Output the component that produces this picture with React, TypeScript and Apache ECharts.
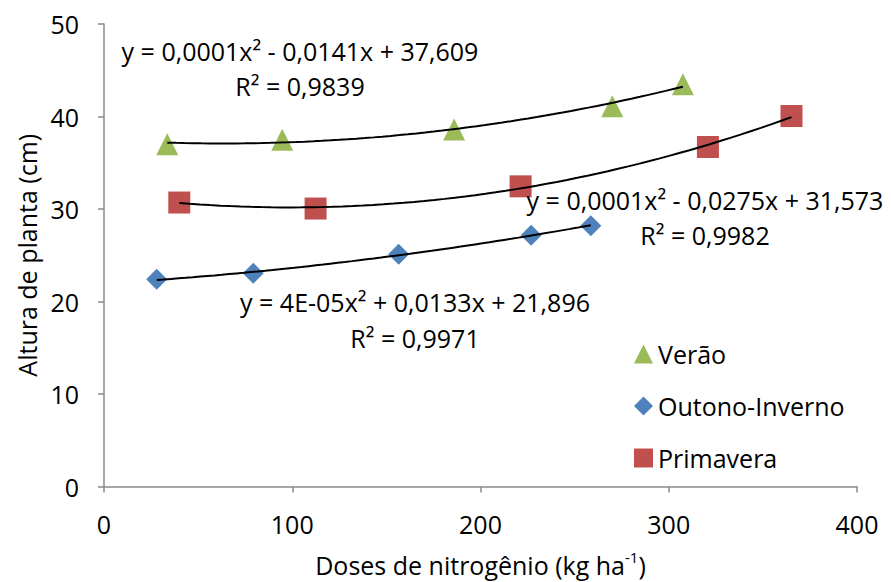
import React, { useEffect, useRef } from "react";
import * as echarts from "echarts";

// Data
const veraoX = [33.6, 94.7, 186, 270, 307.5];
const veraoY = [37.0, 37.5, 38.6, 41.1, 43.5];
const outonoX = [28, 79.3, 156.5, 226.9, 258.6];
const outonoY = [22.4, 23.05, 25.1, 27.15, 28.2];
const primaveraX = [40, 112.4, 221.3, 320.8, 365.2];
const primaveraY = [30.7, 30.05, 32.45, 36.7, 40.05];

const seriesNames = ["Verão", "Outono-Inverno", "Primavera"];
const seriesColors = ["#9BBB59", "#4F81BD", "#C0504D"];
const seriesSymbols = ["triangle", "diamond", "rect"];

const eqVerao = ["y = 0,0001x² - 0,0141x + 37,609", "R² = 0,9839"];
const eqPrimavera = ["y = 0,0001x² - 0,0275x + 31,573", "R² = 0,9982"];
const eqOutono = ["y = 4E-05x² + 0,0133x + 21,896", "R² = 0,9971"];

const FONT = '"Open Sans", "Noto Sans", sans-serif';
const FS = 25;

// least-squares quadratic fit (Excel polynomial trendline, order 2)
function quadFit(xs: number[], ys: number[]) {
  let s0 = 0, s1 = 0, s2 = 0, s3 = 0, s4 = 0, t0 = 0, t1 = 0, t2 = 0;
  for (let i = 0; i < xs.length; i++) {
    const x = xs[i], y = ys[i];
    s0 += 1; s1 += x; s2 += x * x; s3 += x * x * x; s4 += x * x * x * x;
    t0 += y; t1 += x * y; t2 += x * x * y;
  }
  const det = (m: number[][]) =>
    m[0][0] * (m[1][1] * m[2][2] - m[1][2] * m[2][1]) -
    m[0][1] * (m[1][0] * m[2][2] - m[1][2] * m[2][0]) +
    m[0][2] * (m[1][0] * m[2][1] - m[1][1] * m[2][0]);
  const A = [[s4, s3, s2], [s3, s2, s1], [s2, s1, s0]];
  const B = [t2, t1, t0];
  const D = det(A);
  return [0, 1, 2].map((k) => {
    const M = A.map((row, r) => row.map((v, c) => (c === k ? B[r] : v)));
    return det(M) / D;
  });
}

function trend(xs: number[], ys: number[]) {
  const [a, b, c] = quadFit(xs, ys);
  const x0 = xs[0], x1 = xs[xs.length - 1];
  const n = 60;
  const pts: number[][] = [];
  for (let i = 0; i <= n; i++) {
    const x = x0 + ((x1 - x0) * i) / n;
    pts.push([x, a * x * x + b * x + c]);
  }
  return pts;
}

export default function App() {
  const ref = useRef<HTMLDivElement>(null);
  useEffect(() => {
    if (!ref.current) return;
    const chart = echarts.init(ref.current, null, { renderer: "svg" });
    const xsAll = [veraoX, outonoX, primaveraX];
    const ysAll = [veraoY, outonoY, primaveraY];
    const scatter = seriesNames.map((name, i) => ({
      name,
      type: "scatter",
      data: xsAll[i].map((x, j) => [x, ysAll[i][j]]),
      symbol: seriesSymbols[i],
      symbolSize: i === 1 ? 21 : 22,
      itemStyle: { color: seriesColors[i], opacity: 1 },
      z: 2,
    }));
    const trends = seriesNames.map((name, i) => ({
      name: name + " trend",
      type: "line",
      data: trend(xsAll[i], ysAll[i]),
      showSymbol: false,
      symbol: "none",
      lineStyle: { color: "#000", width: 2 },
      silent: true,
      z: 3,
    }));
    const eqText = (lines: string[], cx: number, y1: number, y2: number) =>
      lines.map((t, k) => ({
        type: "text",
        x: cx,
        y: k === 0 ? y1 : y2,
        z: 10,
        style: { text: t, fontSize: FS, fontFamily: FONT, fill: "#000", textAlign: "center", textVerticalAlign: "middle" },
      }));
    chart.setOption({
      animation: false,
      backgroundColor: "#fff",
      grid: { left: 104, right: 34, top: 24, bottom: 95 },
      xAxis: {
        type: "value",
        min: 0,
        max: 400,
        interval: 100,
        name: "{a|Doses de nitrogênio (kg ha}{s|-1}{a|)}",
        nameLocation: "middle",
        nameGap: 63,
        nameTextStyle: {
          rich: {
            a: { fontSize: FS, fontFamily: FONT, color: "#000", lineHeight: 30 },
            s: { fontSize: 15, fontFamily: FONT, color: "#000", verticalAlign: "top", lineHeight: 18 },
          },
        },
        axisLine: { show: true, lineStyle: { color: "#8a8a8a", width: 1.5 } },
        axisTick: { show: true, length: 6, lineStyle: { color: "#8a8a8a", width: 1.5 } },
        axisLabel: { fontSize: FS, fontFamily: FONT, color: "#000", margin: 25 },
        splitLine: { show: false },
      },
      yAxis: {
        type: "value",
        min: 0,
        max: 50,
        interval: 10,
        name: "Altura de planta (cm)",
        nameLocation: "middle",
        nameGap: 62,
        nameTextStyle: { fontSize: FS, fontFamily: FONT, color: "#000" },
        axisLine: { show: true, lineStyle: { color: "#8a8a8a", width: 1.5 } },
        axisTick: { show: true, length: 6, lineStyle: { color: "#8a8a8a", width: 1.5 } },
        axisLabel: { fontSize: FS, fontFamily: FONT, color: "#000", margin: 25 },
        splitLine: { show: false },
      },
      legend: {
        data: seriesNames,
        orient: "vertical",
        left: 634,
        top: 341,
        padding: 0,
        itemWidth: 19,
        itemHeight: 19,
        itemGap: 26,
        textStyle: { fontSize: FS, fontFamily: FONT, color: "#000", lineHeight: 26 },
      },
      graphic: [
        ...eqText(eqVerao, 300, 51, 86),
        ...eqText(eqPrimavera, 705, 200, 235),
        ...eqText(eqOutono, 415, 302, 338),
      ],
      series: [...scatter, ...trends],
    });
    return () => chart.dispose();
  }, []);
  return <div ref={ref} style={{ position: "absolute", left: 0, top: 0, width: 891, height: 582 }} />;
}
